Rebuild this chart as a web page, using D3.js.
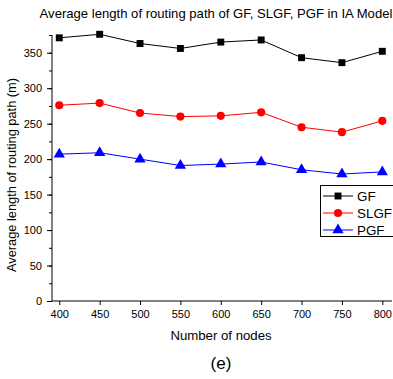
<!DOCTYPE html>
<html lang="en">
<head>
<meta charset="UTF-8">
<title>Average length of routing path</title>
<script src="https://d3js.org/d3.v7.min.js"></script>
<style>
  body { margin: 0; background: #fff; }
  text { font-family: "Liberation Sans", Arial, sans-serif; fill: #000; }
</style>
</head>
<body>
<div id="chart"></div>
<script>
// data
var nodes = [400, 450, 500, 550, 600, 650, 700, 750, 800];
var gf   = [371, 376, 363, 356, 365, 368, 343, 336, 352];
var slgf = [276, 279, 265, 260, 261, 266, 245, 238, 254];
var pgf  = [207, 209, 200, 191, 193, 196, 185, 179, 182];
var xTicks = [400, 450, 500, 550, 600, 650, 700, 750, 800];
var yTicks = [0, 50, 100, 150, 200, 250, 300, 350];
var seriesNames = ['GF', 'SLGF', 'PGF'];
var seriesColors = ['#000000', '#ff0000', '#0000ff'];

var width = 393, height = 379;
var svg = d3.select('#chart').append('svg')
    .attr('width', width)
    .attr('height', height);

var x = d3.scaleLinear().domain([391, 812]).range([52, 392]);
var y = d3.scaleLinear().domain([0, 375]).range([301, 35]);

// axes
svg.append('g')
    .attr('transform', 'translate(0,' + y(0) + ')')
    .call(d3.axisBottom(x).tickValues(xTicks).tickSize(4).tickPadding(5).tickFormat(d3.format('d')))
    .call(function(g) { g.select('.domain').attr('d', 'M' + x.range()[0] + ',0H' + x.range()[1]); });

svg.append('g')
    .attr('transform', 'translate(' + x.range()[0] + ',0)')
    .call(d3.axisLeft(y).tickValues(d3.range(0, 376, 25)).tickSize(3).tickFormat(''))
    .call(function(g) { g.select('.domain').attr('d', 'M0,' + y.range()[0] + 'V' + y.range()[1]); });

svg.append('g')
    .attr('transform', 'translate(' + x.range()[0] + ',0)')
    .call(d3.axisLeft(y).tickValues(yTicks).tickSize(5).tickPadding(5))
    .call(function(g) { g.select('.domain').remove(); });

svg.selectAll('.tick text').attr('font-size', 11).style('font-family', '"Liberation Sans", Arial, sans-serif');
svg.selectAll('.domain, .tick line').attr('stroke', '#000');

// series
var all = [gf, slgf, pgf];
var line = d3.line().x(function(d, i) { return x(nodes[i]); }).y(function(d) { return y(d); });
var symbols = [d3.symbolSquare, d3.symbolCircle, d3.symbolTriangle];
var symSize = [48, 52, 55];

all.forEach(function(vals, k) {
    svg.append('path')
        .datum(vals)
        .attr('d', line)
        .attr('fill', 'none')
        .attr('stroke', seriesColors[k])
        .attr('stroke-width', 1);
    svg.selectAll('.m' + k)
        .data(vals)
        .enter().append('path')
        .attr('transform', function(d, i) { return 'translate(' + x(nodes[i]) + ',' + y(d) + ')'; })
        .attr('d', d3.symbol().type(symbols[k]).size(symSize[k]))
        .attr('fill', seriesColors[k]);
});

// legend
var lg = svg.append('g');
lg.append('rect')
    .attr('x', 320.5).attr('y', 185.5)
    .attr('width', 80).attr('height', 51)
    .attr('fill', '#fff').attr('stroke', '#000').attr('stroke-width', 1);
seriesNames.forEach(function(name, k) {
    var ly = 196 + k * 17;
    lg.append('line')
        .attr('x1', 323).attr('x2', 353)
        .attr('y1', ly).attr('y2', ly)
        .attr('stroke', seriesColors[k]);
    lg.append('path')
        .attr('transform', 'translate(338,' + ly + ')')
        .attr('d', d3.symbol().type(symbols[k]).size(symSize[k]))
        .attr('fill', seriesColors[k]);
    lg.append('text')
        .attr('x', 357).attr('y', ly + 4.8)
        .attr('font-size', 13.4)
        .text(name);
});

// titles
svg.append('text')
    .attr('x', 216).attr('y', 18)
    .attr('text-anchor', 'middle')
    .attr('font-size', 13.1)
    .text('Average length of routing path of GF, SLGF, PGF in IA Model');

svg.append('text')
    .attr('transform', 'translate(16,175) rotate(-90)')
    .attr('text-anchor', 'middle')
    .attr('font-size', 12.8)
    .text('Average length of routing path (m)');

svg.append('text')
    .attr('x', 221).attr('y', 340)
    .attr('text-anchor', 'middle')
    .attr('font-size', 13.2)
    .text('Number of nodes');

svg.append('text')
    .attr('x', 221).attr('y', 369)
    .attr('text-anchor', 'middle')
    .attr('font-size', 17)
    .text('(e)');
</script>
</body>
</html>
